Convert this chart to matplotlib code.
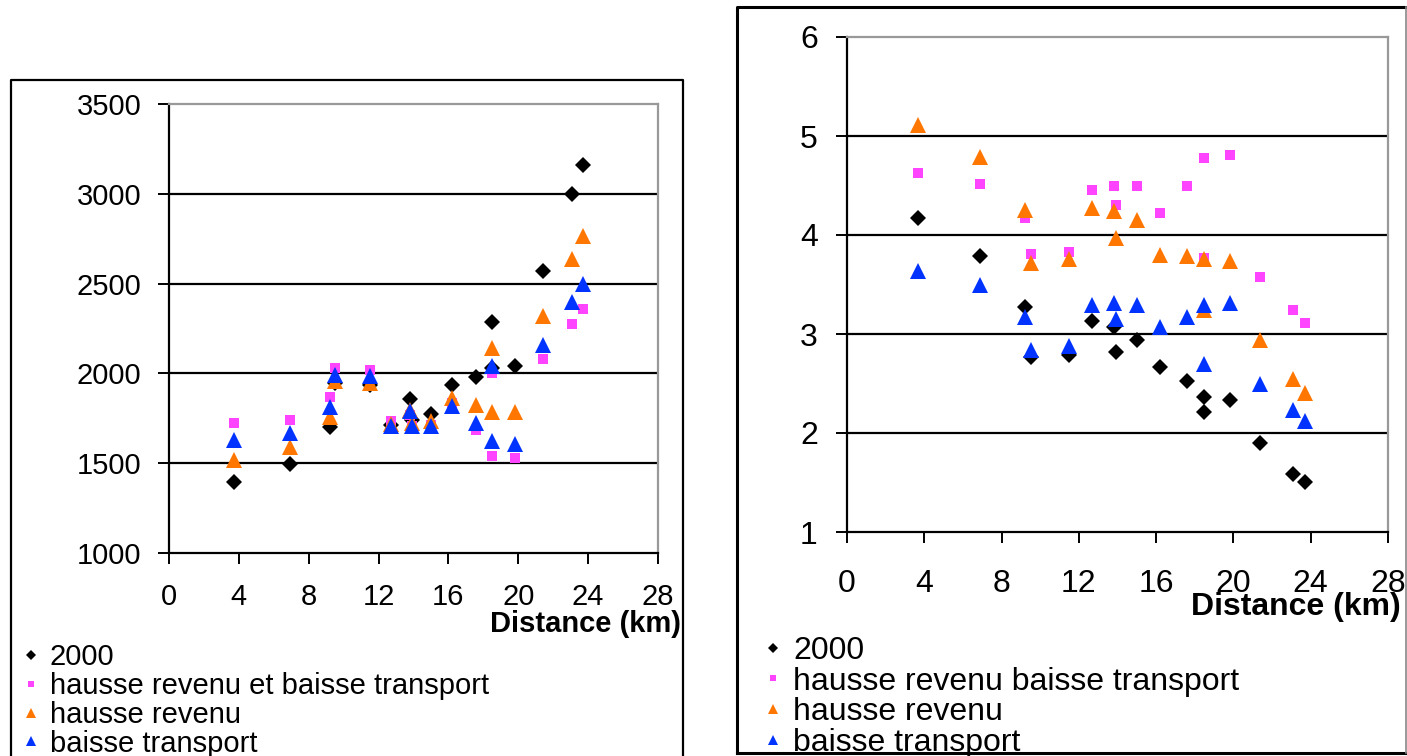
import matplotlib
matplotlib.use('Agg')
import matplotlib.pyplot as plt
from matplotlib.lines import Line2D

plt.rcParams['font.family'] = ['Liberation Sans', 'DejaVu Sans']

# distance to centre (km), one entry per commune
distance = [3.7, 6.9, 9.2, 9.5, 11.5, 12.7, 13.8, 13.9, 15.0, 16.2,
            17.6, 18.5, 18.5, 19.8, 21.4, 23.1, 23.7]

# left chart
left_2000 = [1395, 1497, 1700, 1947, 1937, 1715, 1857, 1742, 1776, 1937,
             1980, 2284, 2030, 2039, 2568, 2999, 3158]
left_both = [1724, 1742, 1869, 2030, 2021, 1733, 1770, 1705, 1715, 1835,
             1683, 2002, 1542, 1529, 2080, 2275, 2359]
left_income = [1516, 1588, 1757, 1956, 1947, 1720, 1798, 1724, 1733, 1863,
               1826, 2141, 1783, 1783, 2321, 2639, 2763]
left_transport = [1627, 1668, 1813, 1993, 1984, 1709, 1789, 1705, 1705, 1817,
                  1724, 2039, 1622, 1609, 2160, 2396, 2500]

# right chart
right_2000 = [4.17, 3.79, 3.27, 2.77, 2.79, 3.13, 3.07, 2.82, 2.94, 2.67,
              2.53, 2.36, 2.21, 2.33, 1.90, 1.59, 1.51]
right_both = [4.63, 4.52, 4.17, 3.81, 3.83, 4.45, 4.49, 4.30, 4.49, 4.22,
              4.49, 4.78, 3.77, 4.81, 3.58, 3.24, 3.11]
right_income = [5.11, 4.79, 4.25, 3.72, 3.76, 4.27, 4.24, 3.97, 4.15, 3.80,
                3.79, 3.76, 3.24, 3.74, 2.94, 2.55, 2.40]
right_transport = [3.64, 3.49, 3.17, 2.84, 2.88, 3.29, 3.31, 3.15, 3.29, 3.07,
                   3.17, 3.29, 2.70, 3.31, 2.49, 2.23, 2.12]

x_ticks = [0, 4, 8, 12, 16, 20, 24, 28]
left_yticks = [1000, 1500, 2000, 2500, 3000, 3500]
right_yticks = [1, 2, 3, 4, 5, 6]
left_labels = ['2000', 'hausse revenu et baisse transport', 'hausse revenu', 'baisse transport']
right_labels = ['2000', 'hausse revenu baisse transport', 'hausse revenu', 'baisse transport']

styles = [('D', '#000000', 8), ('s', '#FF44FF', 7.5), ('^', '#FF7700', 11), ('^', '#0033FF', 11)]

W, H = 1407, 756
fig = plt.figure(figsize=(W / 100, H / 100), dpi=100)


def frac(x0, y0, x1, y1):
    # pixel box (top-left origin) -> figure fraction rect
    return [x0 / W, 1 - y1 / H, (x1 - x0) / W, (y1 - y0) / H]


def setup(ax, yticks, fs, xpad, ypad):
    ax.set_xlim(0, 28)
    ax.set_ylim(yticks[0], yticks[-1])
    ax.set_xticks(x_ticks)
    ax.set_yticks(yticks)
    for v in yticks[1:-1]:
        ax.axhline(v, color='black', lw=1.6, zorder=1)
    for s in ['left', 'bottom']:
        ax.spines[s].set_color('black')
        ax.spines[s].set_linewidth(1.6)
    for s in ['top', 'right']:
        ax.spines[s].set_color('#999999')
        ax.spines[s].set_linewidth(1.6)
    ax.tick_params(axis='both', length=8, width=1.4, labelsize=fs)
    ax.tick_params(axis='x', pad=xpad)
    ax.tick_params(axis='y', pad=ypad)


def draw(ax, series, labels):
    for vals, (m, c, ms), lab in zip(series, styles, labels):
        ax.plot(distance, vals, linestyle='none', marker=m, color=c,
                markersize=ms, markeredgewidth=0, label=lab, zorder=3)


# chart borders
fig.add_artist(Line2D([11 / W, 11 / W, 683 / W, 683 / W],
                      [0, 1 - 80 / H, 1 - 80 / H, 0], color='black', lw=1.6))
fig.add_artist(Line2D([737 / W, 737 / W, 1406 / W],
                      [1 - 753 / H, 1 - 7 / H, 1 - 7 / H], color='black', lw=2.2))
fig.add_artist(Line2D([737 / W, 1406 / W], [1 - 753 / H, 1 - 753 / H],
                      color='black', lw=2.2))
fig.add_artist(Line2D([1406 / W, 1406 / W], [1 - 7 / H, 1 - 753 / H],
                      color='#888888', lw=1.2))

ax1 = fig.add_axes(frac(169, 104, 658, 553))
setup(ax1, left_yticks, 21, 13.5, 12)
draw(ax1, [left_2000, left_both, left_income, left_transport], left_labels)
fig.text(681 / W, 1 - 624 / H, 'Distance (km)', ha='right', va='center',
         fontsize=21, fontweight='bold')
ax1.legend(loc='upper left', bbox_to_anchor=(22 / W, 1 - 643 / H),
           bbox_transform=fig.transFigure, frameon=False, fontsize=21,
           markerscale=0.6, handlelength=0.6, handletextpad=0.35,
           labelspacing=0.03, borderpad=0, borderaxespad=0)

ax2 = fig.add_axes(frac(847, 37, 1388, 532))
setup(ax2, right_yticks, 23, 19, 13)
draw(ax2, [right_2000, right_both, right_income, right_transport], right_labels)
fig.text(1401 / W, 1 - 607 / H, 'Distance (km)', ha='right', va='center',
         fontsize=23, fontweight='bold')
ax2.legend(loc='upper left', bbox_to_anchor=(763 / W, 1 - 636 / H),
           bbox_transform=fig.transFigure, frameon=False, fontsize=23,
           markerscale=0.6, handlelength=0.6, handletextpad=0.35,
           labelspacing=0.02, borderpad=0, borderaxespad=0)

fig.savefig('out.png', dpi=100)
